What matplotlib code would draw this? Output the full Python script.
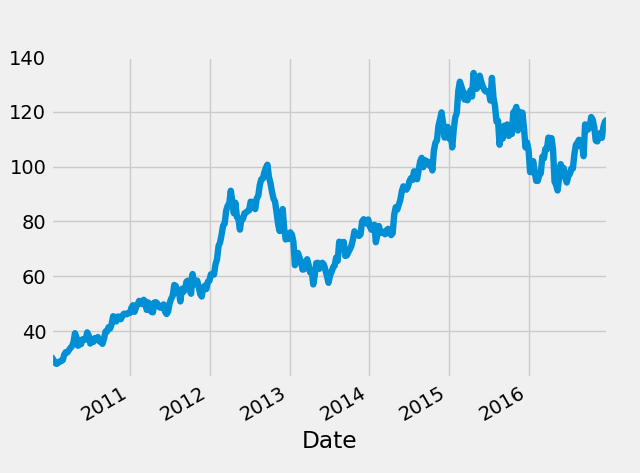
import numpy as np
import pandas as pd
import matplotlib
matplotlib.use('Agg')
import matplotlib.pyplot as plt
import matplotlib.dates as mdates

plt.style.use('fivethirtyeight')

# weekly (Friday) prices, one list per year
p2010 = [30.6, 30.3, 29.4, 28.3, 28.0,
         28.4, 28.9, 29.0, 29.4,
         31.4, 32.3, 32.2, 33.0,
         33.8, 34.4, 35.8, 39.2, 37.6,
         34.6, 36.6, 35.2, 37.0,
         36.8, 36.9, 39.5, 38.4,
         35.4, 37.0, 36.0, 37.4, 37.1,
         37.8, 36.2, 36.1, 35.3,
         37.2, 39.8, 39.8, 41.4,
         40.9, 42.5, 45.4, 44.3, 43.5,
         45.3, 45.2, 44.3, 45.4,
         46.3, 46.3, 46.1, 46.6, 46.6]
p2011 = [48.5, 49.4, 47.0, 48.8,
         49.7, 51.0, 50.8, 49.8,
         51.4, 50.7, 47.7, 50.4,
         49.6, 47.0, 46.8, 50.4, 50.5,
         50.0, 48.8, 48.5, 48.6,
         49.7, 47.0, 46.2, 47.1,
         50.2, 51.8, 52.8, 56.8, 56.4,
         54.0, 54.5, 50.8, 55.4,
         54.3, 55.1, 58.0, 58.4, 55.2,
         53.6, 60.8, 57.0, 58.3,
         58.4, 56.1, 53.5, 52.6,
         55.8, 56.5, 55.3, 58.0, 58.3]
p2012 = [60.7, 60.7, 60.6, 64.3,
         66.2, 71.0, 72.3, 75.2,
         78.5, 79.2, 83.9, 85.8, 86.4,
         91.2, 87.6, 83.0, 86.8,
         81.6, 81.0, 77.0, 81.0,
         80.9, 83.0, 83.2, 83.8, 84.0,
         87.2, 87.1, 86.8, 84.5,
         88.4, 89.3, 93.3, 95.4, 95.6,
         97.9, 99.5, 100.7, 96.2,
         94.0, 90.8, 88.3, 87.2,
         83.3, 79.0, 76.5, 82.3, 84.5,
         77.2, 73.4, 75.0, 73.6]
p2013 = [76.0, 75.2, 72.6, 64.0,
         65.5, 68.5, 66.7, 65.4,
         62.4, 62.5, 64.2, 66.2, 64.0,
         61.4, 62.1, 57.0, 60.4,
         64.8, 64.9, 62.7, 64.3, 64.9,
         64.2, 62.2, 60.0, 57.6,
         60.3, 61.5, 63.3, 63.8,
         66.8, 65.6, 72.6, 72.3, 70.4,
         72.5, 67.4, 67.6, 68.8,
         69.8, 71.1, 73.4, 76.4,
         75.1, 75.1, 74.7, 75.3, 80.0,
         80.8, 79.9, 79.2, 80.7]
p2014 = [78.2, 77.0, 78.1, 78.8, 72.4,
         75.2, 78.3, 75.8, 76.0,
         76.2, 75.3, 76.8, 77.3,
         76.6, 75.0, 75.7, 82.4,
         85.2, 84.3, 86.1, 87.8, 91.0,
         92.8, 92.0, 91.6, 92.6,
         94.7, 95.8, 95.1, 98.3,
         96.8, 95.4, 98.6, 101.9, 103.2,
         99.8, 102.4, 101.8, 101.8,
         100.4, 101.5, 98.6, 105.9, 108.7,
         109.6, 114.9, 117.2, 119.8,
         115.9, 110.6, 112.6, 114.5]
p2015 = [110.2, 112.7, 107.0, 113.6, 118.0,
         119.6, 127.7, 131.0, 129.3,
         127.4, 124.5, 126.6, 124.2,
         126.0, 127.8, 125.6, 134.2,
         129.8, 128.4, 129.5, 133.2, 131.0,
         129.4, 128.0, 127.4, 127.5,
         127.2, 124.1, 132.4, 125.3, 122.1,
         116.4, 116.8, 108.0, 114.0,
         110.2, 114.9, 114.2, 115.4,
         111.2, 112.8, 111.9, 119.8, 120.3,
         121.8, 113.2, 120.0, 118.5,
         119.7, 114.0, 107.0, 108.8]
p2016 = [106.0, 98.0, 98.0, 102.0, 98.2,
         94.8, 94.8, 96.8, 97.6,
         103.6, 103.0, 106.5, 106.3,
         110.6, 109.3, 110.4, 106.4, 94.5,
         93.4, 91.3, 95.9, 100.9,
         98.6, 99.5, 96.1, 94.2,
         96.5, 97.3, 99.3, 99.3, 104.6,
         108.0, 108.7, 109.8, 107.5,
         108.2, 103.8, 115.4, 113.3, 113.6,
         114.6, 118.1, 117.1, 114.3,
         109.5, 109.2, 110.7, 112.3,
         110.5, 114.5, 116.4, 117.0, 116.5]

prices = [p2010, p2011, p2012, p2013, p2014, p2015, p2016]
years = list(range(2010, 2017))

dates = []
vals = []
for y, p in zip(years, prices):
    d = pd.date_range('%d-01-01' % y, periods=len(p), freq='W-FRI')
    dates.extend(d)
    vals.extend(p)
dates[0] = pd.Timestamp('2010-01-04')
s = pd.Series(vals, index=pd.DatetimeIndex(dates))

fig, ax = plt.subplots(figsize=(6.4, 4.73), dpi=100)
fig.subplots_adjust(left=0.08, right=0.95, top=0.88, bottom=0.2)
ax.plot(s.index, s.values, linewidth=4.6)
ax.set_xlim(s.index[0], pd.Timestamp('2016-12-30'))
ax.set_ylim(22.7, 140.1)
ax.set_yticks([40, 60, 80, 100, 120, 140])
ax.xaxis.set_major_locator(mdates.YearLocator())
ax.xaxis.set_major_formatter(mdates.DateFormatter('%Y'))
for lab in ax.get_xticklabels():
    lab.set_rotation(30)
    lab.set_ha('right')
ax.set_xlabel('Date')

fig.savefig('out.png', dpi=100)
